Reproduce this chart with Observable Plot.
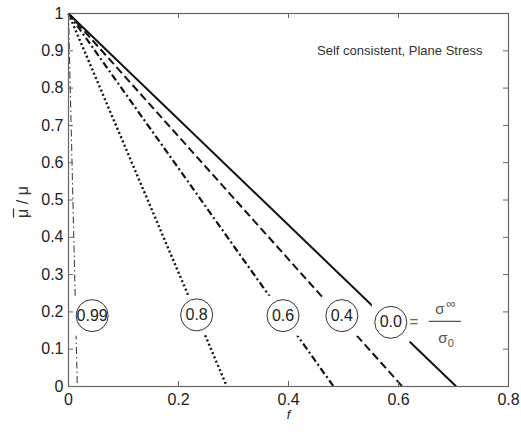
<!DOCTYPE html>
<html><head><meta charset="utf-8">
<script src="https://cdn.jsdelivr.net/npm/d3@7"></script>
<script src="https://cdn.jsdelivr.net/npm/@observablehq/plot@0.6"></script>
<style>
body{margin:0;background:#fff}
#chart{width:521px;height:435px}
</style>
</head><body><div id="chart"></div>
<script>
// stress ratio sigma_inf/sigma_0 for each curve
const ratios = ["0.0", "0.4", "0.6", "0.8", "0.99"];
// f where mu_bar/mu reaches zero (each curve starts at f=0, mu_bar/mu=1)
const fStart = [0, 0, 0, 0, 0];
const muStart = [1, 1, 1, 1, 1];
const fEnd = [0.705, 0.607, 0.482, 0.288, 0.016];
const muEnd = [0, 0, 0, 0, 0];
// circled label positions (data coords)
const labelF = [0.586, 0.497, 0.390, 0.233, 0.043];
const labelMu = [0.172, 0.190, 0.190, 0.192, 0.190];
const xTicks = [0, 0.2, 0.4, 0.6, 0.8];
const yTicks = [0, 0.1, 0.2, 0.3, 0.4, 0.5, 0.6, 0.7, 0.8, 0.9, 1];
const title = "Self consistent, Plane Stress";
const yLabel = "\u03BC / \u03BC";
const xLabel = "f";

const rows = [];
ratios.forEach((r, i) => {
  rows.push({ratio: r, f: fStart[i], mu: muStart[i]});
  rows.push({ratio: r, f: fEnd[i], mu: muEnd[i]});
});
const labels = ratios.map((r, i) => ({ratio: r, f: labelF[i], mu: labelMu[i]}));

const styles = {
  "0.0":  {strokeWidth: 2, strokeDasharray: null, stroke: "#111"},
  "0.4":  {strokeWidth: 2, strokeDasharray: "8,4", stroke: "#111"},
  "0.6":  {strokeWidth: 2.2, strokeDasharray: "7,3,2,3", stroke: "#111"},
  "0.8":  {strokeWidth: 2.4, strokeDasharray: "2,2.6", stroke: "#111"},
  "0.99": {strokeWidth: 1.1, strokeDasharray: "7,3,1.5,3", stroke: "#444"}
};

const boxSymbol = {draw(ctx) { ctx.rect(-19, -20, 38, 40); }};
const barSymbol = {draw(ctx) { ctx.moveTo(-16, 0); ctx.lineTo(16, 0); }};
const vbarSymbol = {draw(ctx) { ctx.moveTo(0, -4.5); ctx.lineTo(0, 4.5); }};

const plotH = 435 - 13 - 49;
const plotW = 521 - 68 - 13;
const font = "Liberation Sans, Arial, sans-serif";
const fmt = d => String(d);

const lineMarks = ratios.map(r => Plot.line(rows.filter(d => d.ratio === r), {
  x: "f", y: "mu", ...styles[r], strokeLinecap: "butt"
}));

const zero = labels.filter(d => d.ratio === "0.0");

const chart = Plot.plot({
  width: 521, height: 435,
  marginLeft: 68, marginRight: 13, marginTop: 13, marginBottom: 49,
  style: {fontFamily: font, background: "#fff", color: "#222"},
  x: {domain: [0, 0.8]},
  y: {domain: [0, 1]},
  marks: [
    ...lineMarks,
    Plot.dot(labels, {x: "f", y: "mu", symbol: boxSymbol, fill: "#fff", stroke: "none", r: 10}),
    Plot.dot(labels, {x: "f", y: "mu", r: 16, fill: "none", stroke: "#333", strokeWidth: 1}),
    Plot.text(labels, {x: "f", y: "mu", text: "ratio", fontSize: 16, fill: "#222"}),
    Plot.text(zero, {x: "f", y: "mu", text: () => "=", dx: 23, fontSize: 15, fill: "#666"}),
    Plot.dot(zero, {x: "f", y: "mu", symbol: barSymbol, dx: 54, dy: -1, stroke: "#555", strokeWidth: 1.4, r: 10}),
    Plot.text(zero, {x: "f", y: "mu", text: () => "\u03C3", dx: 49, dy: -13, fontSize: 15, fill: "#555"}),
    Plot.text(zero, {x: "f", y: "mu", text: () => "\u221E", dx: 60, dy: -19, fontSize: 13, fill: "#555"}),
    Plot.text(zero, {x: "f", y: "mu", text: () => "\u03C3", dx: 52, dy: 16, fontSize: 15, fill: "#555"}),
    Plot.text(zero, {x: "f", y: "mu", text: () => "0", dx: 60, dy: 21, fontSize: 11, fill: "#555"}),
    Plot.text([title], {frameAnchor: "top-right", dx: -26, dy: 32, textAnchor: "end", fontSize: 13, fill: "#333"}),
    Plot.frame({stroke: "#666", strokeWidth: 1.2}),
    Plot.tickX(xTicks, {x: d => d, insetTop: plotH - 5, stroke: "#666"}),
    Plot.tickX(xTicks, {x: d => d, insetBottom: plotH - 5, stroke: "#666"}),
    Plot.tickY(yTicks, {y: d => d, insetRight: plotW - 5, stroke: "#666"}),
    Plot.tickY(yTicks, {y: d => d, insetLeft: plotW - 5, stroke: "#666"}),
    Plot.axisX(xTicks, {tickSize: 0, tickPadding: 7, fontSize: 16, label: null, fill: "#222", tickFormat: fmt}),
    Plot.axisY(yTicks, {tickSize: 0, tickPadding: 5, fontSize: 16, label: null, fill: "#222", tickFormat: fmt}),
    Plot.text([yLabel], {frameAnchor: "left", textAnchor: "middle", dx: -46, dy: 2, rotate: -90, fontSize: 16, fill: "#333"}),
    Plot.dot([yLabel], {frameAnchor: "left", symbol: vbarSymbol, dx: -55, dy: 13, stroke: "#333", strokeWidth: 1.2, r: 10}),
    Plot.text([xLabel], {frameAnchor: "bottom", dy: 32, fontSize: 13, fontStyle: "italic", fill: "#222"})
  ]
});
document.getElementById("chart").appendChild(chart);
</script></body></html>
